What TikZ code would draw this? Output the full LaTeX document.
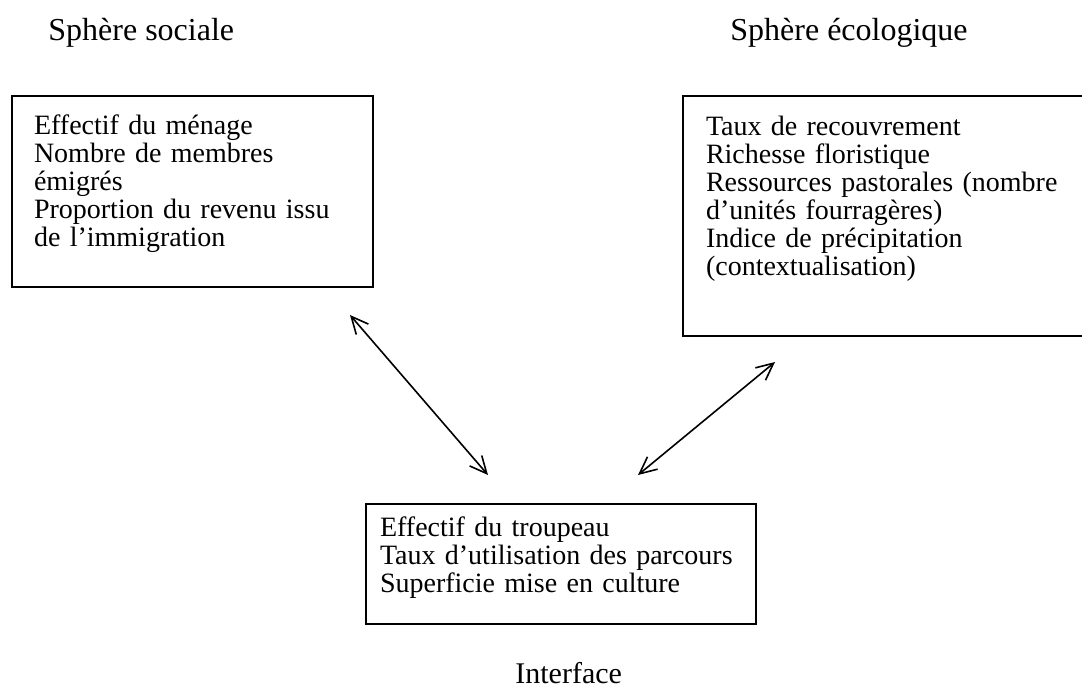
\documentclass[tikz,border=0pt]{standalone}
\usepackage{fontspec}
\setmainfont{Liberation Serif}
\usetikzlibrary{arrows.meta}

\tikzset{
  spherebox/.style={draw, line width=1pt, anchor=north west, align=left, inner ysep=0pt,
    font=\fontsize{14pt}{14pt}\selectfont},
  title/.style={anchor=base west, inner sep=0pt, font=\fontsize{16pt}{16pt}\selectfont},
  link/.style={{Straight Barb[length=8.5pt,width=8pt]}-{Straight Barb[length=8.5pt,width=8pt]}, line width=0.8pt}
}

\begin{document}
\begin{tikzpicture}[x=0.5pt, y=-0.5pt]
    \useasboundingbox (0,0) rectangle (1082,691);

    % titres
    \node[title] (socialtitle) at (48,40) {Sphère sociale};
    \node[title] (ecotitle) at (730,40) {Sphère écologique};
    \node[title, font=\fontsize{15pt}{15pt}\selectfont] (interfacetitle) at (515,683) {Interface};

    % boites
    \node[spherebox, inner xsep=11pt, text width=158.5pt, text height=19pt, text depth=76.5pt] (social) at (11,95)
        {Effectif du ménage\\Nombre de membres\\émigrés\\Proportion du revenu issu\\de l’immigration};
    \node[spherebox, inner xsep=11.5pt, text width=183.5pt, text height=19.5pt, text depth=100.5pt] (eco) at (682,95)
        {Taux de recouvrement\\Richesse floristique\\Ressources pastorales (nombre\\d’unités fourragères)\\Indice de précipitation\\(contextualisation)};
    \node[spherebox, inner xsep=7pt, text width=181pt, text height=16pt, text depth=44pt] (interface) at (365,503)
        {Effectif du troupeau\\Taux d’utilisation des parcours\\Superficie mise en culture};

    % liens
    \coordinate (s1) at (350,315);
    \coordinate (s2) at (488,475);
    \coordinate (e1) at (775,362);
    \coordinate (e2) at (638,475);
    \draw[link] (s1) -- (s2);
    \draw[link] (e1) -- (e2);

\end{tikzpicture}
\end{document}
